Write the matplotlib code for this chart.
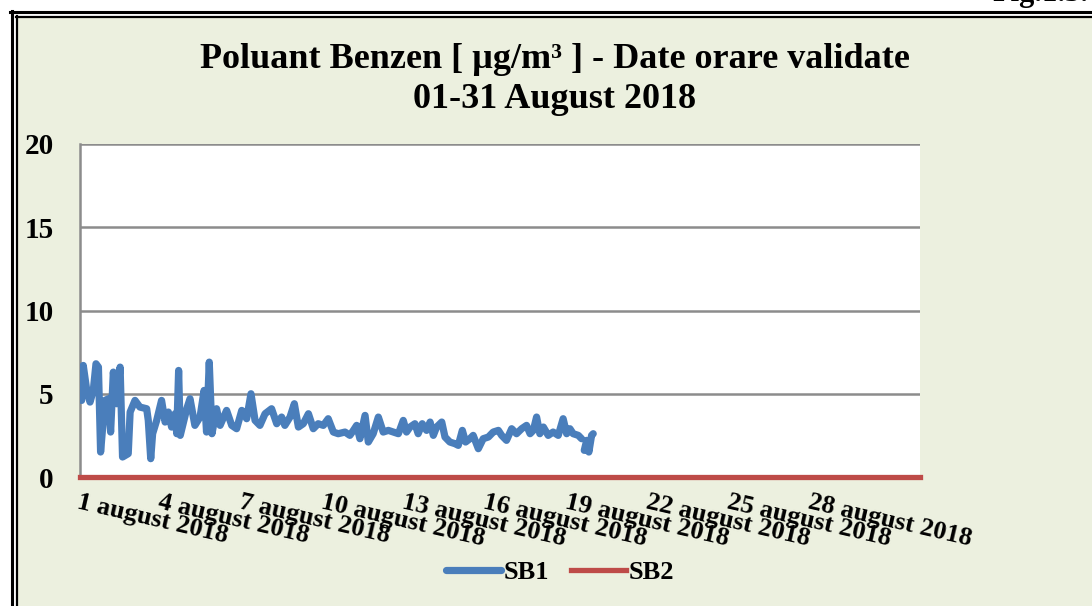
import numpy as np
import matplotlib.pyplot as plt
from matplotlib.lines import Line2D
from matplotlib.patches import Rectangle

# hourly benzene (days since 1 Aug 00:00)
sb1_day = [0.06, 0.12, 0.25, 0.37, 0.49, 0.59, 0.68, 0.76, 0.92, 1.05, 1.13, 1.23, 1.35, 1.48,
           1.57, 1.78, 1.85, 2.03, 2.21, 2.46, 2.52, 2.61, 2.68, 2.83, 3.01, 3.14, 3.26, 3.38,
           3.51, 3.57, 3.64, 3.70, 3.94, 4.06, 4.24, 4.43, 4.58, 4.67, 4.77, 4.87, 4.95, 5.04,
           5.17, 5.41, 5.60, 5.78, 5.97, 6.15, 6.31, 6.46, 6.64, 6.83, 7.07, 7.26, 7.44, 7.56,
           7.75, 7.91, 8.06, 8.24, 8.43, 8.61, 8.79, 8.98, 9.16, 9.35, 9.53, 9.78, 9.96, 10.09,
           10.21, 10.33, 10.52, 10.64, 10.82, 11.01, 11.19, 11.38, 11.56, 11.75, 11.93, 12.05,
           12.18, 12.36, 12.48, 12.63, 12.79, 12.92, 13.04, 13.16, 13.35, 13.47, 13.65, 13.84,
           13.96, 14.11, 14.23, 14.39, 14.51, 14.70, 14.88, 15.07, 15.25, 15.44, 15.56, 15.74,
           15.93, 16.11, 16.30, 16.48, 16.61, 16.73, 16.85, 16.97, 17.10, 17.28, 17.46, 17.65,
           17.83, 17.96, 18.08, 18.20, 18.39, 18.51, 18.56, 18.61, 18.70, 18.78, 18.88, 18.94]
sb1_val = [4.6, 6.7, 5.2, 4.5, 5.2, 6.8, 6.6, 1.5, 4.6, 4.7, 2.7, 6.3, 4.4, 6.6,
           1.2, 1.4, 3.9, 4.6, 4.2, 4.1, 3.4, 1.1, 2.6, 3.4, 4.6, 3.3, 3.9, 3.0,
           3.8, 2.6, 6.4, 2.5, 4.1, 4.7, 3.1, 3.6, 5.2, 2.7, 6.9, 2.6, 3.3, 4.1,
           3.1, 4.0, 3.1, 2.9, 4.0, 3.5, 5.0, 3.4, 3.1, 3.8, 4.1, 3.2, 3.6, 3.1,
           3.6, 4.4, 3.0, 3.2, 3.8, 2.9, 3.2, 3.1, 3.5, 2.7, 2.6, 2.7, 2.5, 2.8,
           3.1, 2.3, 3.7, 2.1, 2.6, 3.6, 2.7, 2.8, 2.7, 2.6, 3.4, 2.7,
           3.0, 3.2, 2.6, 3.2, 2.8, 3.3, 2.5, 3.0, 3.3, 2.4, 2.1, 2.0,
           1.9, 2.8, 2.1, 2.3, 2.5, 1.7, 2.3, 2.4, 2.7, 2.8, 2.5, 2.2,
           2.9, 2.6, 2.9, 3.1, 2.6, 2.8, 3.6, 2.6, 3.0, 2.5, 2.7, 2.5,
           3.5, 2.6, 2.9, 2.6, 2.5, 2.3, np.nan, 1.6, 2.2, 1.5, 2.5, 2.6]
sb2_day = [0.0, 31.0]
sb2_val = [0.0, 0.0]

tick_days = [0, 3, 6, 9, 12, 15, 18, 21, 24, 27]
tick_labels = ['%d august 2018' % (d + 1) for d in tick_days]
yticks = [0, 5, 10, 15, 20]

W, H = 1092, 606
bg = '#ECF0DF'
plt.rcParams['font.family'] = ['Liberation Serif', 'DejaVu Serif']
plt.rcParams['font.weight'] = 'bold'

fig = plt.figure(figsize=(W / 100, H / 100), dpi=100, facecolor='white')

# page frame (double black line on top and left)
fig.patches.append(Rectangle((18 / W, 0), 1, 1 - 18 / H, transform=fig.transFigure,
                             facecolor=bg, edgecolor='none', zorder=-5))
fig.lines.append(Line2D([10 / W, 1], [1 - 11.5 / H] * 2, transform=fig.transFigure, color='black', lw=2.2, zorder=-4))
fig.lines.append(Line2D([11.5 / W] * 2, [0, 1 - 10.5 / H], transform=fig.transFigure, color='black', lw=2.2, zorder=-4))
fig.lines.append(Line2D([16 / W, 1], [1 - 16.5 / H] * 2, transform=fig.transFigure, color='black', lw=1.6, zorder=-4))
fig.lines.append(Line2D([16.5 / W] * 2, [0, 1 - 16 / H], transform=fig.transFigure, color='black', lw=1.6, zorder=-4))
fig.text(1088 / W, 1 - 1.5 / H, 'Fig.1.3.', ha='right', va='baseline', fontsize=22, fontweight='bold')

ax = fig.add_axes([80 / W, (H - 477) / H, 840 / W, 333 / H])
ax.set_facecolor('white')
ax.plot(sb1_day, sb1_val, color='#4A7EBB', lw=5.2, solid_joinstyle='round', solid_capstyle='round',
        label='SB1', zorder=3)
ax.plot(sb2_day, sb2_val, color='#BE4B48', lw=3.8, label='SB2', zorder=4, clip_on=False)

ax.set_xlim(0, 31)
ax.set_ylim(0, 20)
ax.set_yticks(yticks)
ax.set_yticklabels([str(v) for v in yticks], fontsize=21, fontweight='bold')
ax.tick_params(axis='y', length=0, pad=19)
ax.set_xticks(tick_days)
ax.set_xticklabels(tick_labels, fontsize=19, fontweight='bold', rotation=-13,
                   ha='left', va='top', rotation_mode='anchor')
ax.tick_params(axis='x', length=0, pad=10)
ax.grid(axis='y', color='#8C8C8C', lw=1.8)
ax.set_axisbelow(True)
for s in ['top', 'right']:
    ax.spines[s].set_visible(False)
ax.spines['left'].set_color('#8C8C8C')
ax.spines['left'].set_linewidth(1.8)
ax.spines['bottom'].set_color('#8C8C8C')

fig.text(555 / W, 1 - 60 / H, 'Poluant Benzen [ µg/m³ ] - Date orare validate',
         ha='center', va='center', fontsize=26, fontweight='bold')
fig.text(555 / W, 1 - 100 / H, '01-31 August 2018',
         ha='center', va='center', fontsize=26, fontweight='bold')

fig.legend(loc='center', bbox_to_anchor=(560 / W, 1 - 572 / H), ncol=2, frameon=False,
           handlelength=2.1, handletextpad=0.1, columnspacing=0.8,
           prop={'weight': 'bold', 'size': 19})

fig.savefig('out.png', dpi=100, facecolor='white')
